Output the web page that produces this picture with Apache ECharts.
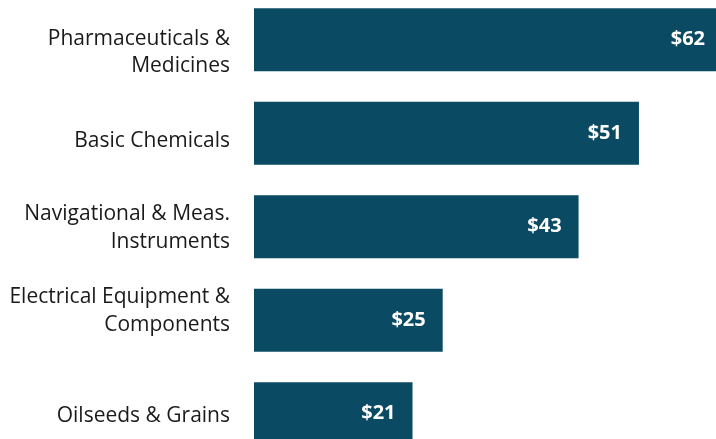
<!DOCTYPE html>
<html>
<head>
<meta charset="utf-8">
<script src="https://cdn.jsdelivr.net/npm/echarts@6/dist/echarts.min.js"></script>
<style>
  html, body { margin: 0; padding: 0; background: #ffffff; }
  #chart { width: 716px; height: 439px; }
</style>
</head>
<body>
<div id="chart"></div>
<script>
// Product categories, top to bottom
const categories = [
  'Pharmaceuticals &\nMedicines',
  'Basic Chemicals',
  'Navigational & Meas.\nInstruments',
  'Electrical Equipment &\nComponents',
  'Oilseeds & Grains'
];
// Values in dollars (billions)
const values = [62, 51, 43, 25, 21];

// Vertical nudge (px, positive = down) for each category label
const labelNudge = [13, 7.5, 1.5, -9, 2.5];

// Rich-text styles: a thin spacer row above (or below) shifts the centred block
const rich = {
  txt: {
    color: '#1a1a1a',
    fontFamily: 'Open Sans',
    fontSize: 21,
    lineHeight: 27.5
  }
};
labelNudge.forEach((d, i) => {
  const h = Math.max(1, Math.abs(2 * d));
  rich['sp' + i] = { fontSize: 1, lineHeight: h, height: h };
});

function formatLabel(value, index) {
  const d = labelNudge[index];
  const rows = value.split('\n').map(line => '{txt|' + line + '}');
  const spacer = '{sp' + index + '| }';
  if (d > 0) rows.unshift(spacer);
  else if (d < 0) rows.push(spacer);
  return rows.join('\n');
}

const chart = echarts.init(document.getElementById('chart'), null, { renderer: 'canvas' });

chart.setOption({
  animation: false,
  backgroundColor: '#ffffff',
  grid: {
    left: 254,
    top: -7,
    width: 468,
    height: 467.5,
    containLabel: false,
    outerBoundsMode: 'none'
  },
  xAxis: {
    type: 'value',
    min: 0,
    max: 62,
    show: false
  },
  yAxis: {
    type: 'category',
    data: categories,
    inverse: true,
    axisLine: { show: false },
    axisTick: { show: false },
    splitLine: { show: false },
    axisLabel: {
      margin: 24,
      align: 'right',
      formatter: formatLabel,
      rich: rich
    }
  },
  series: [{
    type: 'bar',
    data: values,
    barWidth: 63,
    itemStyle: { color: '#0b4a63' },
    label: {
      show: true,
      position: 'insideRight',
      distance: 17,
      color: '#ffffff',
      fontFamily: 'Open Sans',
      fontWeight: 'bold',
      fontSize: 20,
      formatter: p => '$' + p.value
    }
  }]
});
</script>
</body>
</html>
